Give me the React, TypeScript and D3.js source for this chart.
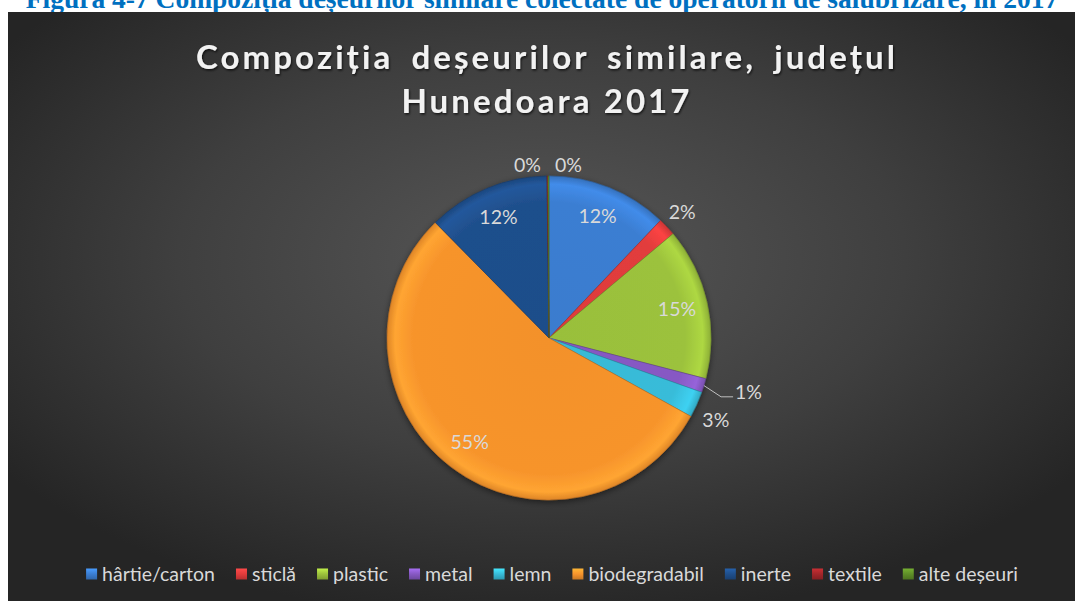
import React from "react";
import * as d3 from "d3";

const categories = ["hârtie/carton", "sticlă", "plastic", "metal", "lemn", "biodegradabil", "inerte", "textile", "alte deșeuri"];
const values = [12.1, 1.8, 15.2, 1.4, 2.6, 54.7, 12.2, 0.1, 0.1];
const colors = ["#3b7ed2", "#e23c3c", "#9cc23c", "#8759c4", "#38bcd9", "#f7942c", "#1f4f8c", "#a3262a", "#5f8f28"];
const headerText = "Figura 4-7 Compoziția deșeurilor similare colectate de operatorii de salubrizare, în 2017";
const titleLines = ["Compoziția deșeurilor similare, județul", "Hunedoara 2017"];

const W = 1075;
const H = 601;

function measure(text: string, font: string): number {
  const c = document.createElement("canvas");
  const ctx = c.getContext("2d")!;
  ctx.font = font;
  return ctx.measureText(text).width;
}

export default function App() {
  const cx = 549;
  const cy = 338;
  const R = 162;
  const total = d3.sum(values);
  const pie = d3.pie<number>().sort(null).startAngle(0).endAngle(2 * Math.PI);
  const arcs = pie(values);
  const arc = d3.arc<d3.PieArcDatum<number>>().innerRadius(0).outerRadius(R);
  const pct = (v: number) => `${Math.round((v / total) * 100)}%`;

  const fs = 19.5;
  const legendFont = `${fs}px Lato`;
  const markerSize = 11;
  const markerGap = 5;
  const itemGap = 21;
  const widths = categories.map((c) => measure(c, legendFont));
  const itemWidths = widths.map((w) => markerSize + markerGap + w);
  const legendTotal = d3.sum(itemWidths) + itemGap * (categories.length - 1);
  let lx = 552 - legendTotal / 2;
  const legendX = itemWidths.map((w) => {
    const x = lx;
    lx += w + itemGap;
    return x;
  });

  const labels = arcs.map((a, i) => {
    const mid = (a.startAngle + a.endAngle) / 2;
    const share = a.value / total;
    const pt = (r: number) => [cx + Math.sin(mid) * r, cy - Math.cos(mid) * r];
    if (share >= 0.05) {
      const [x, y] = pt(R * 0.81);
      return { x, y, anchor: "middle", leader: null as null | string };
    }
    if (share < 0.005) {
      const [x, y] = pt(R + 11);
      const side = i === categories.length - 1 ? 1 : -1;
      return { x: x + side * 20, y, anchor: "middle", leader: null };
    }
    if (i === 3) {
      const [ex, ey] = pt(R);
      const [lx2, ly2] = pt(R + 18);
      const tx = lx2 + 12;
      const ty = ly2 + 6;
      return {
        x: tx + 2,
        y: ty - 5,
        anchor: "start",
        leader: `M${ex},${ey}L${lx2},${ty}L${tx},${ty}`,
      };
    }
    const [x, y] = pt(R + 21);
    return { x, y: i === 4 ? y + 7 : y, anchor: "middle", leader: null };
  });

  return (
    <svg width={W} height={H} style={{ position: "absolute", left: 0, top: 0 }}>
      <defs>
        <radialGradient id="bg" cx="50%" cy="42%" r="62%">
          <stop offset="0%" stopColor="#575757" />
          <stop offset="55%" stopColor="#3f3f3f" />
          <stop offset="100%" stopColor="#252525" />
        </radialGradient>
        {colors.map((c, i) => (
          <radialGradient key={i} id={`g${i}`} gradientUnits="userSpaceOnUse" cx={0} cy={0} r={R}>
            <stop offset="0%" stopColor={d3.color(c)!.darker(0.05).formatHex()} />
            <stop offset="84%" stopColor={c} />
            <stop offset="95%" stopColor={d3.color(c)!.brighter(0.3).formatHex()} />
            <stop offset="100%" stopColor={d3.color(c)!.darker(0.3).formatHex()} />
          </radialGradient>
        ))}
        {colors.map((c, i) => (
          <linearGradient key={i} id={`m${i}`} x1="0" y1="0" x2="0" y2="1">
            <stop offset="0%" stopColor={d3.color(c)!.brighter(0.6).formatHex()} />
            <stop offset="50%" stopColor={c} />
            <stop offset="100%" stopColor={d3.color(c)!.darker(0.6).formatHex()} />
          </linearGradient>
        ))}
        <filter id="tshadow" x="-10%" y="-30%" width="120%" height="160%">
          <feDropShadow dx="1" dy="1.5" stdDeviation="1.2" floodColor="#000" floodOpacity="0.7" />
        </filter>
        <filter id="pshadow" x="-20%" y="-20%" width="140%" height="140%">
          <feDropShadow dx="0" dy="2" stdDeviation="3" floodColor="#000" floodOpacity="0.5" />
        </filter>
      </defs>
      <rect x={0} y={0} width={W} height={H} fill="#ffffff" />
      <text
        x={542}
        y={8}
        textAnchor="middle"
        fontFamily="'Liberation Serif', serif"
        fontWeight="bold"
        fontSize={27.5}
        fill="#0070c0"
      >
        {headerText}
      </text>
      <rect x={8} y={12} width={W - 8} height={H - 12} fill="url(#bg)" />
      {titleLines.map((t, i) => (
        <text
          key={i}
          x={547}
          y={69 + i * 44}
          textAnchor="middle"
          fontFamily="Lato, sans-serif"
          fontWeight="bold"
          fontSize={33}
          letterSpacing={3.1}
          wordSpacing={i === 0 ? 7 : 0}
          fill="#f2f2f2"
          filter="url(#tshadow)"
        >
          {t}
        </text>
      ))}
      <g filter="url(#pshadow)">
        {arcs.map((a, i) => (
          <path
            key={i}
            d={arc(a) || ""}
            transform={`translate(${cx},${cy})`}
            fill={`url(#g${i})`}
            stroke={d3.color(colors[i])!.darker(0.8).formatHex()}
            strokeWidth={0.6}
          />
        ))}
      </g>
      {labels.map((l, i) => (
        <g key={i}>
          {l.leader && <path d={l.leader} fill="none" stroke="#bfbfbf" strokeWidth={1} />}
          <text
            x={l.x}
            y={l.y}
            dy="0.35em"
            textAnchor={l.anchor as any}
            fontFamily="Lato, sans-serif"
            fontSize={fs}
            fill="#d9d9d9"
          >
            {pct(values[i])}
          </text>
        </g>
      ))}
      {categories.map((c, i) => (
        <g key={c} transform={`translate(${legendX[i]},574)`}>
          <rect x={0} y={-markerSize / 2} width={markerSize} height={markerSize} fill={`url(#m${i})`} />
          <text
            x={markerSize + markerGap}
            y={0}
            dy="0.35em"
            fontFamily="Lato, sans-serif"
            fontSize={fs}
            fill="#d9d9d9"
          >
            {c}
          </text>
        </g>
      ))}
    </svg>
  );
}
